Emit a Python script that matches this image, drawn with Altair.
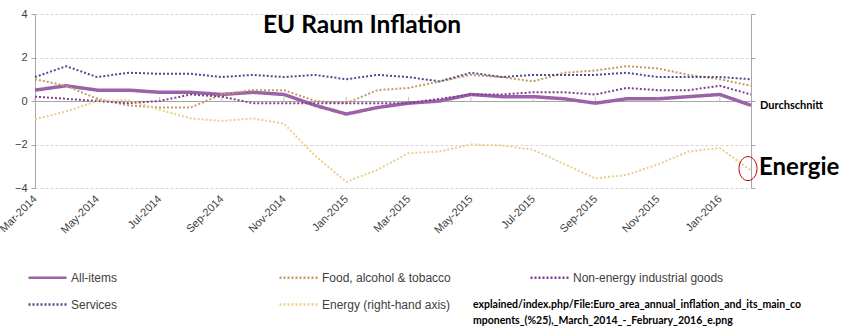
import altair as alt
import pandas as pd

months = ["Mar-2014", "Apr-2014", "May-2014", "Jun-2014", "Jul-2014", "Aug-2014",
          "Sep-2014", "Oct-2014", "Nov-2014", "Dec-2014", "Jan-2015", "Feb-2015",
          "Mar-2015", "Apr-2015", "May-2015", "Jun-2015", "Jul-2015", "Aug-2015",
          "Sep-2015", "Oct-2015", "Nov-2015", "Dec-2015", "Jan-2016", "Feb-2016"]

all_items = [0.5, 0.7, 0.5, 0.5, 0.4, 0.4, 0.3, 0.4, 0.3, -0.2, -0.6, -0.3,
             -0.1, 0.0, 0.3, 0.2, 0.2, 0.1, -0.1, 0.1, 0.1, 0.2, 0.3, -0.2]
food = [1.0, 0.7, 0.1, -0.2, -0.3, -0.3, 0.3, 0.5, 0.5, 0.0, -0.1, 0.5,
        0.6, 0.9, 1.2, 1.1, 0.9, 1.3, 1.4, 1.6, 1.5, 1.2, 1.0, 0.7]
non_energy = [0.2, 0.1, 0.0, -0.1, 0.0, 0.3, 0.2, -0.1, -0.1, -0.1, -0.1, -0.1,
              -0.1, 0.1, 0.3, 0.3, 0.4, 0.4, 0.3, 0.6, 0.5, 0.5, 0.7, 0.3]
services = [1.1, 1.6, 1.1, 1.3, 1.25, 1.25, 1.1, 1.2, 1.1, 1.2, 1.0, 1.2,
            1.1, 0.9, 1.3, 1.1, 1.2, 1.2, 1.2, 1.3, 1.1, 1.1, 1.1, 1.0]
energy = [-0.84, -0.48, 0.0, 0.04, -0.4, -0.8, -0.92, -0.8, -1.04, -2.52, -3.72, -3.16,
          -2.4, -2.32, -2.0, -2.04, -2.24, -2.9, -3.56, -3.4, -2.92, -2.32, -2.16, -3.2]

series_names = ["All-items", "Food, alcohol & tobacco", "Non-energy industrial goods",
                "Services", "Energy (right-hand axis)"]
series_values = [all_items, food, non_energy, services, energy]
colors = ["#9b62a8", "#c49a62", "#7e3f8e", "#4b4b94", "#e8cf8a"]
dashes = [[1, 0], [2, 2], [2, 2], [2, 2], [2, 2]]

tick_months = months[::2]
title_text = "EU Raum Inflation"
source_lines = ["explained/index.php/File:Euro_area_annual_inflation_and_its_main_co",
                "mponents_(%25),_March_2014_-_February_2016_e.png"]

rows = []
for name, vals in zip(series_names, series_values):
    for m, v in zip(months, vals):
        rows.append({"month": m, "series": name, "value": v})
df = pd.DataFrame(rows)

W, H = 716, 174
xscale = alt.Scale(type="point", domain=months, padding=0)
yscale = alt.Scale(domain=[-4, 4], nice=False, zero=False)

xaxis = alt.Axis(values=tick_months, labelAngle=-45, labelAlign="right",
                 labelBaseline="middle", domain=False, ticks=False, grid=False,
                 labelFontSize=11, labelColor="#404040", labelFont="Liberation Sans",
                 labelPadding=9, title=None, labelOverlap=False, labelBound=False)

yaxis_left = alt.Axis(values=[-4, -2, 0, 2, 4], orient="left", domainColor="#a6a6a6",
                      tickColor="#a6a6a6", tickSize=4, labelFontSize=11,
                      labelColor="#404040", labelFont="Liberation Sans", labelPadding=4,
                      grid=True,
                      gridColor={"condition": {"test": "datum.value === 0", "value": "#a6a6a6"},
                                 "value": "#d4d4d4"},
                      gridDash={"condition": {"test": "datum.value === 0", "value": []},
                                "value": [3, 2]},
                      title=None)
yaxis_right = alt.Axis(values=[-4, -2, 0, 2, 4], orient="right", domainColor="#a6a6a6",
                       tickColor="#a6a6a6", tickSize=4, labels=False, grid=False, title=None)

X = alt.X("month:O", scale=xscale, axis=xaxis, sort=months)

leg = alt.Legend(
    orient="none", legendX=-8, legendY=243, columns=3, direction="horizontal",
    title=None, symbolType="stroke", symbolSize=1444, labelFontSize=12,
    labelFont="Liberation Sans", labelColor="#404040", gridAlign="all",
    columnPadding=52, rowPadding=-12, labelOffset=3, padding=0,
    symbolOpacity=1, symbolStrokeWidth=2.5)

lines = alt.Chart(df).mark_line(strokeCap="butt").encode(
    x=X,
    y=alt.Y("value:Q", scale=yscale, axis=yaxis_left),
    color=alt.Color("series:N", scale=alt.Scale(domain=series_names, range=colors),
                    legend=leg, sort=series_names),
    strokeDash=alt.StrokeDash("series:N", scale=alt.Scale(domain=series_names, range=dashes),
                              legend=leg, sort=series_names),
    strokeWidth=alt.condition("datum.series === 'All-items'", alt.value(3.5), alt.value(2)),
)

ticks_df = pd.DataFrame({"month": tick_months, "value": [0] * len(tick_months)})
zero_ticks = alt.Chart(ticks_df).mark_tick(orient="vertical", size=4, thickness=1,
                                           color="#a6a6a6", yOffset=-2).encode(
    x=X, y=alt.Y("value:Q", scale=yscale, axis=yaxis_right))

last_df = pd.DataFrame({"month": [months[-1]], "avg": [all_items[-1]], "en": [energy[-1]]})
avg_label = alt.Chart(last_df).mark_text(
    text="Durchschnitt", align="left", baseline="middle", dx=9, dy=1,
    font="Lato", fontWeight="bold", fontSize=11, color="#000000").encode(
    x=X, y=alt.Y("avg:Q", scale=yscale, axis=None))
en_label = alt.Chart(last_df).mark_text(
    text="Energie", align="left", baseline="alphabetic", dx=8, dy=4,
    font="Lato", fontWeight="bold", fontSize=24, color="#000000").encode(
    x=X, y=alt.Y("en:Q", scale=yscale, axis=None))
ellipse = alt.Chart(last_df).mark_point(
    shape="M -0.75 0 A 0.75 1 0 1 0 0.75 0 A 0.75 1 0 1 0 -0.75 0 Z",
    size=576, filled=False, stroke="#c00000", strokeWidth=1, opacity=1,
    xOffset=-3, yOffset=-2).encode(
    x=X, y=alt.Y("en:Q", scale=yscale, axis=None))

title = alt.Chart(last_df).mark_text(
    text=title_text, align="center", baseline="alphabetic", font="Lato",
    fontWeight="bold", fontSize=24.5, color="#000000").encode(
    x=alt.value(327), y=alt.value(19))
src1 = alt.Chart(last_df).mark_text(
    text=source_lines[0], align="left", baseline="middle", font="Lato",
    fontWeight="bold", fontSize=10.5, color="#000000").encode(
    x=alt.value(438), y=alt.value(291))
src2 = alt.Chart(last_df).mark_text(
    text=source_lines[1], align="left", baseline="middle", font="Lato",
    fontWeight="bold", fontSize=10.5, color="#000000").encode(
    x=alt.value(438), y=alt.value(307))

chart = alt.layer(lines, zero_ticks, avg_label, en_label, ellipse, title, src1, src2).resolve_axis(
    y="independent"
).properties(
    width=W, height=H,
    padding={"left": 35, "top": 14, "right": 95, "bottom": 140},
    autosize=alt.AutoSizeParams(type="none"),
    background="#ffffff",
).configure_view(stroke=None)

chart.save("out.html", embed_options={"renderer": "svg", "actions": False})
